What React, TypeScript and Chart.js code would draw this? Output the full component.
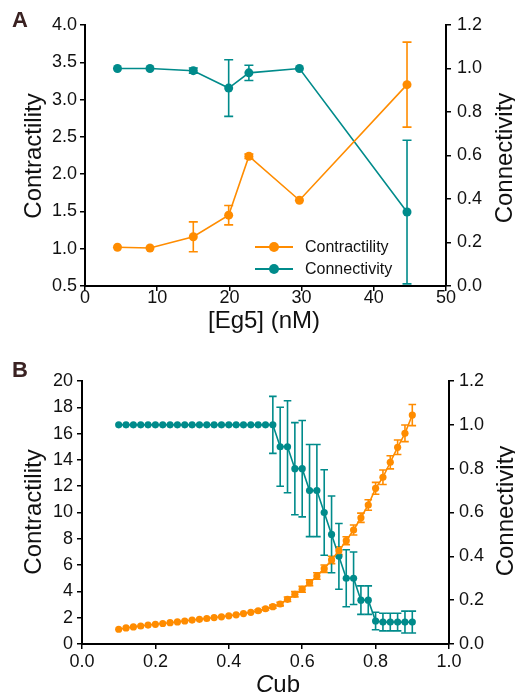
import React, { useEffect, useRef } from "react";
import { Chart, registerables } from "chart.js";
Chart.register(...registerables);

const ORANGE = "#FF8C00";
const TEAL = "#008B8B";
const FONT = "'Liberation Sans', Arial, Helvetica, sans-serif";
const TEXT = "#111";

// ---------- Panel A data ----------
const eg5Conc = [4.5, 9.0, 15.0, 19.9, 22.7, 29.7, 44.6];
const contractilityA = [1.02, 1.01, 1.16, 1.45, 2.24, 1.65, 3.2];
const contractilityErrA = [0, 0, 0.2, 0.13, 0.03, 0, 0.57];
const connectivityA = [1.0, 1.0, 0.99, 0.91, 0.98, 1.0, 0.34];
const connectivityErrA = [0, 0, 0.012, 0.13, 0.035, 0, 0.33];
const xTicksA = ["0", "10", "20", "30", "40", "50"];
const leftTicksA = ["0.5", "1.0", "1.5", "2.0", "2.5", "3.0", "3.5", "4.0"];
const rightTicksA = ["0.0", "0.2", "0.4", "0.6", "0.8", "1.0", "1.2"];

// ---------- Panel B data ----------
const cub = [
  0.10, 0.12, 0.14, 0.16, 0.18, 0.20, 0.22, 0.24, 0.26, 0.28,
  0.30, 0.32, 0.34, 0.36, 0.38, 0.40, 0.42, 0.44, 0.46, 0.48,
  0.50, 0.52, 0.54, 0.56, 0.58, 0.60, 0.62, 0.64, 0.66, 0.68,
  0.70, 0.72, 0.74, 0.76, 0.78, 0.80, 0.82, 0.84, 0.86, 0.88, 0.90,
];
const contractilityB = [
  1.12, 1.22, 1.30, 1.37, 1.44, 1.50, 1.56, 1.62, 1.68, 1.75,
  1.82, 1.88, 1.94, 2.01, 2.07, 2.14, 2.22, 2.31, 2.41, 2.53,
  2.68, 2.84, 3.04, 3.40, 3.78, 4.16, 4.66, 5.17, 5.73, 6.39,
  7.10, 7.86, 8.67, 9.60, 10.57, 11.84, 12.68, 13.82, 14.96, 16.02, 17.41,
];
const contractilityErrB = [
  0, 0, 0, 0, 0, 0, 0, 0, 0, 0,
  0, 0, 0, 0, 0, 0, 0, 0, 0, 0.08,
  0.1, 0.12, 0.14, 0.17, 0.2, 0.22, 0.22, 0.25, 0.28, 0.28,
  0.3, 0.3, 0.38, 0.35, 0.4, 0.45, 0.55, 0.5, 0.55, 0.63, 0.8,
];
const connectivityB = [
  1.0, 1.0, 1.0, 1.0, 1.0, 1.0, 1.0, 1.0, 1.0, 1.0,
  1.0, 1.0, 1.0, 1.0, 1.0, 1.0, 1.0, 1.0, 1.0, 1.0,
  1.0, 1.0, 0.9, 0.9, 0.8, 0.8, 0.7, 0.7, 0.6, 0.5,
  0.4, 0.3, 0.3, 0.2, 0.2, 0.105, 0.1, 0.1, 0.1, 0.1, 0.1,
];
const connectivityErrB = [
  0, 0, 0, 0, 0, 0, 0, 0, 0, 0,
  0, 0, 0, 0, 0, 0, 0, 0, 0, 0,
  0, 0.13, 0.18, 0.21, 0.21, 0.22, 0.21, 0.21, 0.195, 0.175,
  0.15, 0.13, 0.12, 0.065, 0.065, 0.04, 0.04, 0.04, 0.04, 0.05, 0.05,
];
const xTicksB = ["0.0", "0.2", "0.4", "0.6", "0.8", "1.0"];
const leftTicksB = ["0", "2", "4", "6", "8", "10", "12", "14", "16", "18", "20"];
const rightTicksB = ["0.0", "0.2", "0.4", "0.6", "0.8", "1.0", "1.2"];

// ---------- plugins ----------
const errorBarPlugin = {
  id: "errorBars",
  beforeDatasetsDraw(chart: any) {
    const ctx = chart.ctx;
    chart.data.datasets.forEach((ds: any, i: number) => {
      if (!ds.errors) return;
      const meta = chart.getDatasetMeta(i);
      const xs = chart.scales[meta.xAxisID];
      const ys = chart.scales[meta.yAxisID];
      ctx.save();
      ctx.strokeStyle = ds.borderColor;
      ctx.lineWidth = ds.errWidth || 1.5;
      const cap = ds.capHalf || 4;
      ds.data.forEach((p: any, j: number) => {
        const e = ds.errors[j];
        if (!e) return;
        const px = xs.getPixelForValue(p.x);
        const t = ys.getPixelForValue(p.y + e);
        const b = ys.getPixelForValue(p.y - e);
        ctx.beginPath();
        ctx.moveTo(px, t);
        ctx.lineTo(px, b);
        ctx.moveTo(px - cap, t);
        ctx.lineTo(px + cap, t);
        ctx.moveTo(px - cap, b);
        ctx.lineTo(px + cap, b);
        ctx.stroke();
      });
      ctx.restore();
    });
  },
};

type Part = { text: string; italic?: boolean };
type Deco = {
  label: { text: string; x: number; y: number };
  xTitle: { parts: Part[]; x: number; y: number; center: boolean };
  leftTitle: { text: string; x: number; y: number };
  rightTitle: { text: string; x: number; y: number };
  legend?: { items: { text: string; color: string }[]; x: number; y: number; dy: number; len: number; textX: number };
};

const TITLE_SIZE = 24;

function makeDeco(d: Deco) {
  return {
    id: "deco",
    afterDraw(chart: any) {
      const ctx = chart.ctx;
      ctx.save();
      ctx.fillStyle = "#3a2222";
      ctx.font = `bold 22px ${FONT}`;
      ctx.textBaseline = "alphabetic";
      ctx.textAlign = "left";
      ctx.fillText(d.label.text, d.label.x, d.label.y);

      ctx.fillStyle = TEXT;
      // x title
      let total = 0;
      const widths = d.xTitle.parts.map((p) => {
        ctx.font = `${p.italic ? "italic " : ""}${TITLE_SIZE}px ${FONT}`;
        const w = ctx.measureText(p.text).width;
        total += w;
        return w;
      });
      let cx = d.xTitle.center ? d.xTitle.x - total / 2 : d.xTitle.x;
      d.xTitle.parts.forEach((p, i) => {
        ctx.font = `${p.italic ? "italic " : ""}${TITLE_SIZE}px ${FONT}`;
        ctx.fillText(p.text, cx, d.xTitle.y);
        cx += widths[i];
      });

      // rotated titles
      ctx.font = `${TITLE_SIZE}px ${FONT}`;
      ctx.textAlign = "center";
      for (const t of [d.leftTitle, d.rightTitle]) {
        ctx.save();
        ctx.translate(t.x, t.y);
        ctx.rotate(-Math.PI / 2);
        ctx.fillText(t.text, 0, 0);
        ctx.restore();
      }

      if (d.legend) {
        const L = d.legend;
        ctx.font = `16px ${FONT}`;
        ctx.textAlign = "left";
        ctx.textBaseline = "middle";
        L.items.forEach((it, i) => {
          const y = L.y + i * L.dy;
          ctx.strokeStyle = it.color;
          ctx.lineWidth = 2;
          ctx.beginPath();
          ctx.moveTo(L.x, y);
          ctx.lineTo(L.x + L.len, y);
          ctx.stroke();
          ctx.fillStyle = it.color;
          ctx.beginPath();
          ctx.arc(L.x + L.len / 2, y, 5, 0, Math.PI * 2);
          ctx.fill();
          ctx.fillStyle = TEXT;
          ctx.fillText(it.text, L.textX, y + 1);
        });
      }
      ctx.restore();
    },
  };
}

function axis(position: string, labels: string[], fit: number, pad: number, tickLen = 5) {
  const vals = labels.map((l) => Number(l));
  const horiz = position === "bottom";
  return {
    type: "linear",
    position,
    min: vals[0],
    max: vals[vals.length - 1],
    afterBuildTicks: (s: any) => {
      s.ticks = vals.map((v) => ({ value: v }));
    },
    afterFit: (s: any) => {
      if (horiz) s.height = fit;
      else s.width = fit;
    },
    ticks: {
      autoSkip: false,
      maxRotation: 0,
      padding: pad,
      color: TEXT,
      font: { family: FONT, size: 18 },
      callback: (v: any) => {
        const k = vals.findIndex((x) => Math.abs(x - v) < 1e-9);
        return k >= 0 ? labels[k] : "";
      },
    },
    grid: {
      display: true,
      drawOnChartArea: false,
      drawTicks: true,
      tickLength: tickLen,
      color: "#000",
      lineWidth: 1.5,
    },
    border: { display: true, color: "#000", width: 2 },
  };
}

function series(label: string, xs: number[], ys: number[], errs: number[], color: string, yAxisID: string, r: number, cap: number) {
  return {
    label,
    data: xs.map((x, i) => ({ x, y: ys[i] })),
    errors: errs,
    capHalf: cap,
    errWidth: 1.6,
    yAxisID,
    xAxisID: "x",
    borderColor: color,
    backgroundColor: color,
    pointBackgroundColor: color,
    pointBorderWidth: 0,
    pointRadius: r,
    pointHoverRadius: r,
    borderWidth: 1.6,
    tension: 0,
    clip: false,
  };
}

function ChartCanvas({ config, width, height, top }: any) {
  const ref = useRef<HTMLCanvasElement>(null);
  useEffect(() => {
    const chart = new Chart(ref.current as HTMLCanvasElement, config);
    return () => chart.destroy();
  }, []);
  return (
    <canvas
      ref={ref}
      width={width}
      height={height}
      style={{ position: "absolute", left: 0, top, width, height, display: "block" }}
    />
  );
}

const configA: any = {
  type: "line",
  data: {
    datasets: [
      series("Contractility", eg5Conc, contractilityA, contractilityErrA, ORANGE, "yL", 4.5, 4.5),
      series("Connectivity", eg5Conc, connectivityA, connectivityErrA, TEAL, "yR", 4.5, 4.5),
    ],
  },
  options: {
    animation: false,
    responsive: false,
    events: [],
    layout: { padding: { top: 25, left: 0, right: 0, bottom: 0 } },
    plugins: { legend: { display: false }, tooltip: { enabled: false } },
    scales: {
      x: axis("bottom", xTicksA, 54, -4),
      yL: axis("left", leftTicksA, 85, 3),
      yR: axis("right", rightTicksA, 69, 6),
    },
  },
  plugins: [
    errorBarPlugin,
    makeDeco({
      label: { text: "A", x: 12, y: 27 },
      xTitle: { parts: [{ text: "[Eg5] (nM)" }], x: 264, y: 328, center: true },
      leftTitle: { text: "Contractility", x: 41, y: 156 },
      rightTitle: { text: "Connectivity", x: 512, y: 158 },
      legend: {
        items: [
          { text: "Contractility", color: ORANGE },
          { text: "Connectivity", color: TEAL },
        ],
        x: 255,
        y: 247,
        dy: 22,
        len: 38,
        textX: 305,
      },
    }),
  ],
};

const configB: any = {
  type: "line",
  data: {
    datasets: [
      series("Contractility", cub, contractilityB, contractilityErrB, ORANGE, "yL", 3.6, 3.8),
      series("Connectivity", cub, connectivityB, connectivityErrB, TEAL, "yR", 3.6, 3.8),
    ],
  },
  options: {
    animation: false,
    responsive: false,
    events: [],
    layout: { padding: { top: 41, left: 0, right: 0, bottom: 0 } },
    plugins: { legend: { display: false }, tooltip: { enabled: false } },
    scales: {
      x: axis("bottom", xTicksB, 52, 2),
      yL: axis("left", leftTicksB, 82, 4),
      yR: axis("right", rightTicksB, 66, 5),
    },
  },
  plugins: [
    errorBarPlugin,
    makeDeco({
      label: { text: "B", x: 12, y: 37 },
      xTitle: { parts: [{ text: "C", italic: true }, { text: "ub" }], x: 256, y: 352, center: false },
      leftTitle: { text: "Contractility", x: 41, y: 172 },
      rightTitle: { text: "Connectivity", x: 513, y: 171 },
    }),
  ],
};

export default function App() {
  return (
    <div style={{ position: "fixed", left: 0, top: 0, width: 515, height: 696, background: "#fff" }}>
      <ChartCanvas config={configA} width={515} height={340} top={0} />
      <ChartCanvas config={configB} width={515} height={356} top={340} />
    </div>
  );
}
